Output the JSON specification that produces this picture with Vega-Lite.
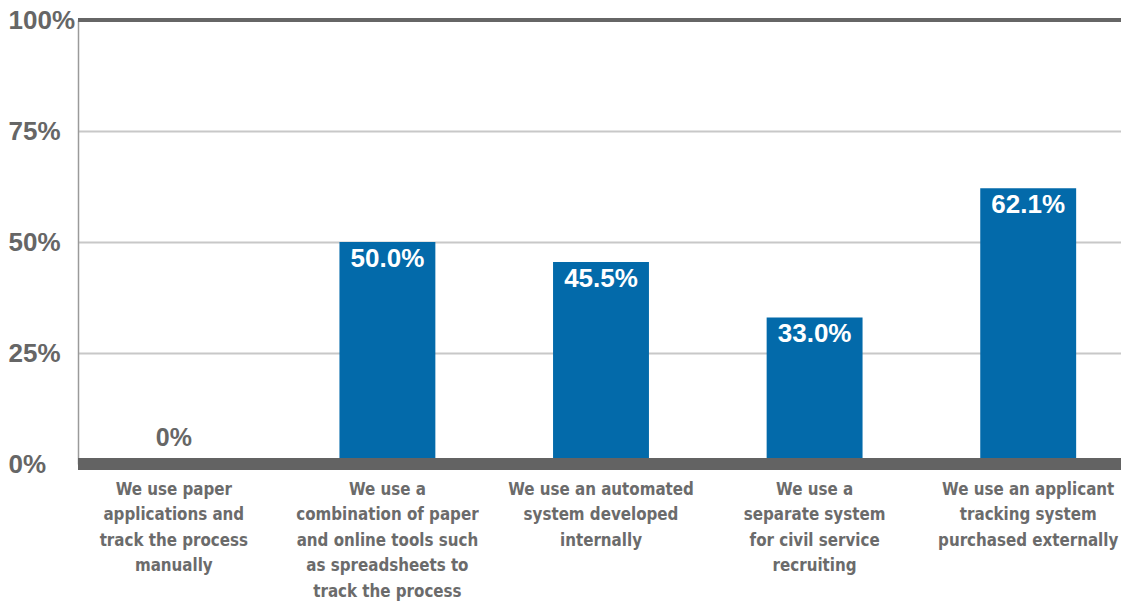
{
  "$schema": "https://vega.github.io/schema/vega-lite/v6.json",
  "autosize": {"type": "none"},
  "width": 1046,
  "height": 444,
  "padding": {"left": 78, "top": 20, "right": 0, "bottom": 139},
  "background": "white",
  "config": {"view": {"stroke": null}},
  "data": {
    "values": [
      {"method": "We use paper|applications and|track the process|manually", "share": 0},
      {"method": "We use a|combination of paper|and online tools such|as spreadsheets to|track the process", "share": 0.5},
      {"method": "We use an automated|system developed|internally", "share": 0.455},
      {"method": "We use a|separate system|for civil service|recruiting", "share": 0.33},
      {"method": "We use an applicant|tracking system|purchased externally", "share": 0.621}
    ]
  },
  "encoding": {
    "x": {
      "field": "method", "type": "nominal", "sort": null,
      "scale": {"paddingInner": 0.551, "paddingOuter": 0.224},
      "axis": {
        "title": null, "labelAngle": 0, "domain": false, "ticks": false,
        "labelExpr": "split(datum.value, '|')",
        "labelFont": "DejaVu Sans Condensed, Liberation Sans", "labelFontWeight": "bold",
        "labelFontSize": 16.8, "labelColor": "#6b6b6b", "labelLineHeight": 25.6,
        "labelBaseline": "top", "labelPadding": 17, "labelLimit": 0
      }
    }
  },
  "layer": [
    {
      "mark": {"type": "bar", "color": "#036aaa"},
      "encoding": {
        "y": {
          "field": "share", "type": "quantitative",
          "scale": {"domain": [0, 1], "nice": false},
          "axis": {
            "title": null, "values": [0, 0.25, 0.5, 0.75, 1], "format": ".0%",
            "ticks": false, "labelAlign": "left", "labelPadding": 70,
            "labelFont": "Liberation Sans", "labelFontWeight": "bold",
            "labelFontSize": 26, "labelColor": "#666666",
            "domainColor": "#9a9a9a", "domainWidth": 1.5,
            "grid": true, "gridColor": "#c8c8c8", "gridWidth": 2
          }
        }
      }
    },
    {
      "transform": [{"filter": "datum.share > 0"}],
      "mark": {"type": "text", "color": "white", "font": "Liberation Sans", "fontWeight": "bold", "fontSize": 26, "baseline": "middle", "dy": 17},
      "encoding": {
        "y": {"field": "share", "type": "quantitative"},
        "text": {"field": "share", "type": "quantitative", "format": ".1%"}
      }
    },
    {
      "transform": [{"filter": "datum.share == 0"}],
      "mark": {"type": "text", "color": "#666666", "font": "Liberation Sans", "fontWeight": "bold", "fontSize": 25, "baseline": "middle", "dy": -26},
      "encoding": {
        "y": {"field": "share", "type": "quantitative"},
        "text": {"field": "share", "type": "quantitative", "format": ".0%"}
      }
    },
    {
      "data": {"values": [{"level": 1}]},
      "mark": {"type": "rule", "color": "#666666", "strokeWidth": 4},
      "encoding": {"y": {"field": "level", "type": "quantitative"}, "x": null}
    },
    {
      "data": {"values": [{"level": 0}]},
      "mark": {"type": "rule", "color": "#636363", "strokeWidth": 12},
      "encoding": {"y": {"field": "level", "type": "quantitative"}, "x": null}
    }
  ]
}
